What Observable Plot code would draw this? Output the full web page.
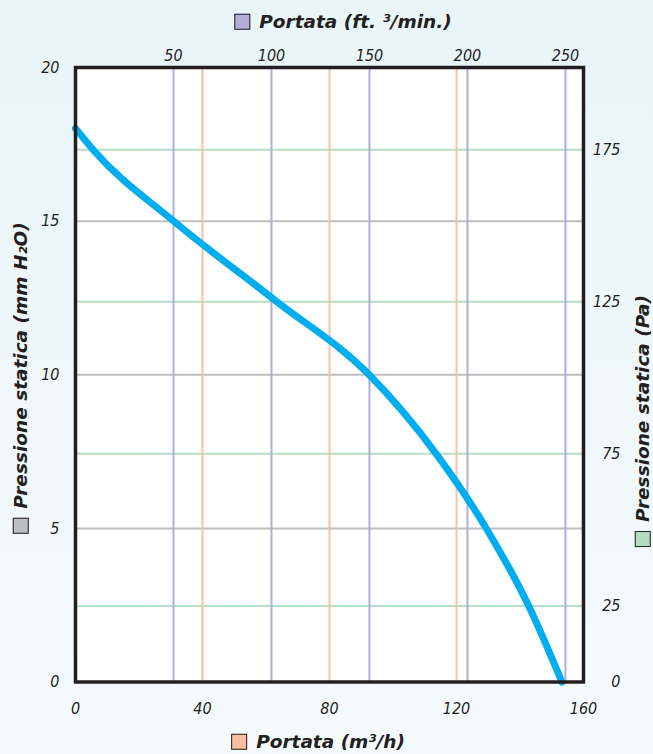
<!DOCTYPE html>
<html>
<head>
<meta charset="utf-8">
<script src="https://cdn.jsdelivr.net/npm/d3@7"></script>
<script src="https://cdn.jsdelivr.net/npm/@observablehq/plot@0.6"></script>
<style>
  html, body { margin: 0; padding: 0; }
  body {
    width: 653px; height: 754px; overflow: hidden; position: relative;
    background: linear-gradient(to bottom, #e9f5f8 0%, #f0f8fb 50%, #f5fafd 100%);
  }
  #chart { position: absolute; left: 0; top: 0; }
  #chart svg text {
    font-family: "DejaVu Sans Condensed", "DejaVu Sans", sans-serif;
    font-stretch: condensed;
    font-style: oblique; font-size: 16px; fill: #231f20;
  }
  .lab {
    position: absolute; font-family: "DejaVu Sans", sans-serif; font-weight: bold; font-style: italic; font-size: 18.5px;
    color: #231f20; white-space: nowrap; display: flex; align-items: center; line-height: 1;
  }
  .sw { display: inline-block; width: 16px; height: 16px; border: 1px solid #231f20; margin-right: 9px; box-sizing: border-box; }
  .h { transform: translate(-50%, -50%); }
  .rot { transform: translate(-50%, -50%) rotate(-90deg); }
</style>
</head>
<body>
<div id="chart"></div>
<div class="lab h" style="left:343px; top:22px;"><span class="sw" style="background:#b3aed8"></span>Portata (ft. ³/min.)</div>
<div class="lab h" style="left:318px; top:742px;"><span class="sw" style="background:#f9bfa5"></span>Portata (m³/h)</div>
<div class="lab rot" style="left:21px; top:378px;"><span class="sw" style="background:#bcbec0"></span>Pressione statica (mm H₂O)</div>
<div class="lab rot" style="left:643px; top:421px;"><span class="sw" style="background:#b5dcc0"></span>Pressione statica (Pa)</div>
<script>
// Data
const flowM3h = [0, 5.75, 30.9, 62.9, 92.5, 114, 129.2, 142.9, 153.2];
const pressureMm = [18.02, 17.3, 15.0, 12.42, 10.0, 7.37, 5.03, 2.44, 0];

const m3hTicks = [0, 40, 80, 120, 160];
const m3hGrid = [40, 80, 120];
const cfmTicks = [50, 100, 150, 200, 250];
const mmTicks = [0, 5, 10, 15, 20];
const mmGrid = [5, 10, 15];
const paTicks = [0, 25, 75, 125, 175];
const paGrid = [25, 75, 125, 175];

// axis ratios as drawn in the reference
const CFM_PER_M3H = 1.62;
const PA_PER_MM = 10.1;

const curve = flowM3h.map((f, i) => ({flow: f, p: pressureMm[i]}));

const chart = Plot.plot({
  width: 653,
  height: 754,
  marginLeft: 75,
  marginRight: 70,
  marginTop: 67,
  marginBottom: 72.5,
  style: {background: "transparent", fontSize: "16px", color: "#231f20"},
  x: {domain: [0, 160], axis: null},
  y: {domain: [0, 20], axis: null},
  marks: [
    Plot.frame({fill: "white", stroke: "none"}),
    Plot.ruleY(mmGrid, {stroke: "#bcbec0", strokeWidth: 2}),
    Plot.ruleY(paGrid.map(p => p / PA_PER_MM), {stroke: "#b5dfc4", strokeWidth: 2}),
    Plot.ruleX(cfmTicks.map(c => c / CFM_PER_M3H), {stroke: "#b3aed8", strokeWidth: 2}),
    Plot.ruleX(m3hGrid, {stroke: "#f9c0a8", strokeWidth: 2}),
    Plot.line(curve, {x: "flow", y: "p", stroke: "#00aeef", strokeWidth: 7, curve: "monotone-x"}),
    Plot.frame({stroke: "#231f20", strokeWidth: 3.5}),
    Plot.axisX(m3hTicks, {anchor: "bottom", tickSize: 0, tickPadding: 21, label: null}),
    Plot.axisX(cfmTicks.map(c => c / CFM_PER_M3H), {anchor: "top", tickSize: 0, tickPadding: 7, label: null,
      tickFormat: d => String(Math.round(d * CFM_PER_M3H))}),
    Plot.axisY(mmTicks, {anchor: "left", tickSize: 0, tickPadding: 16, label: null}),
    Plot.axisY(paTicks.map(p => p / PA_PER_MM), {anchor: "right", tickSize: 0, tickPadding: 37, textAnchor: "end", label: null,
      tickFormat: d => String(Math.round(d * PA_PER_MM))})
  ]
});
document.getElementById("chart").appendChild(chart);
</script>
</body>
</html>
